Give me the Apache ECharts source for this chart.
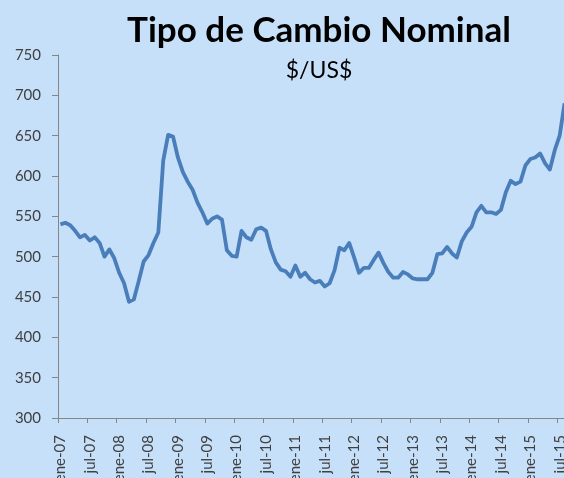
<!DOCTYPE html>
<html>
<head>
<meta charset="utf-8">
<script src="https://cdn.jsdelivr.net/npm/echarts@6/dist/echarts.min.js"></script>
<style>
  html, body { margin: 0; padding: 0; background: #c6e0fa; }
  #chart { width: 564px; height: 478px; }
</style>
</head>
<body>
<div id="chart"></div>
<script>
// meses (etiquetas del eje)
const monthNames = ["ene", "feb", "mar", "abr", "may", "jun", "jul", "ago", "sep", "oct", "nov", "dic"];
const years = ["07", "08", "09", "10", "11", "12", "13", "14", "15"];

// tipo de cambio nominal promedio mensual, $/US$
const values2007 = [540, 542, 539, 532, 524, 527, 520, 524, 517, 500, 509, 498];
const values2008 = [480, 467, 444, 447, 470, 494, 502, 517, 530, 619, 651, 649];
const values2009 = [623, 605, 593, 583, 567, 555, 541, 547, 550, 546, 508, 501];
const values2010 = [500, 532, 524, 521, 534, 536, 532, 509, 493, 484, 482, 475];
const values2011 = [489, 475, 480, 472, 468, 470, 463, 467, 483, 511, 508, 517];
const values2012 = [499, 480, 486, 486, 496, 505, 492, 481, 474, 474, 481, 478];
const values2013 = [473, 472, 472, 472, 480, 503, 504, 512, 504, 499, 519, 530];
const values2014 = [537, 555, 563, 555, 555, 553, 558, 580, 594, 590, 593, 613];
const values2015 = [621, 623, 628, 616, 608, 632, 650, 690];

const yTicks = { min: 300, max: 750, step: 50 };

const values = [].concat(values2007, values2008, values2009, values2010, values2011,
  values2012, values2013, values2014, values2015);

const categories = [];
for (let i = 0; i < values.length; i++) {
  categories.push(monthNames[i % 12] + "-" + years[Math.floor(i / 12)]);
}

const chart = echarts.init(document.getElementById("chart"));
const axisColor = "#868686";
const labelFont = "Lato, 'Open Sans', sans-serif";

chart.setOption({
  backgroundColor: "#c6e0fa",
  animation: false,
  title: [
    {
      text: "Tipo de Cambio Nominal",
      left: 314,
      top: 8,
      textAlign: "center",
      textStyle: { fontFamily: labelFont, fontSize: 35, fontWeight: "bold", color: "#000" },
    },
    {
      text: "$/US$",
      left: 314,
      top: 54,
      textAlign: "center",
      textStyle: { fontFamily: labelFont, fontSize: 23, fontWeight: "normal", color: "#000" },
    },
  ],
  grid: { left: 58, top: 55, right: -3, bottom: 60, outerBoundsMode: "none", containLabel: false },
  xAxis: {
    type: "category",
    data: categories,
    boundaryGap: true,
    axisLine: { lineStyle: { color: axisColor, width: 1 } },
    axisTick: { show: true, interval: 5, length: 5, lineStyle: { color: axisColor } },
    axisLabel: {
      interval: 5,
      rotate: 90,
      margin: 17,
      color: "#404040",
      fontFamily: labelFont,
      fontSize: 15,
    },
    splitLine: { show: false },
  },
  yAxis: {
    type: "value",
    min: yTicks.min,
    max: yTicks.max,
    interval: yTicks.step,
    axisLine: { show: true, lineStyle: { color: axisColor, width: 1 } },
    axisTick: { show: true, length: 6, lineStyle: { color: axisColor } },
    axisLabel: { margin: 17, color: "#404040", fontFamily: labelFont, fontSize: 15 },
    splitLine: { show: false },
  },
  series: [
    {
      type: "line",
      data: values,
      symbol: "none",
      smooth: false,
      lineStyle: { color: "#4a7ebb", width: 3.8, join: "round" },
    },
  ],
});
</script>
</body>
</html>
